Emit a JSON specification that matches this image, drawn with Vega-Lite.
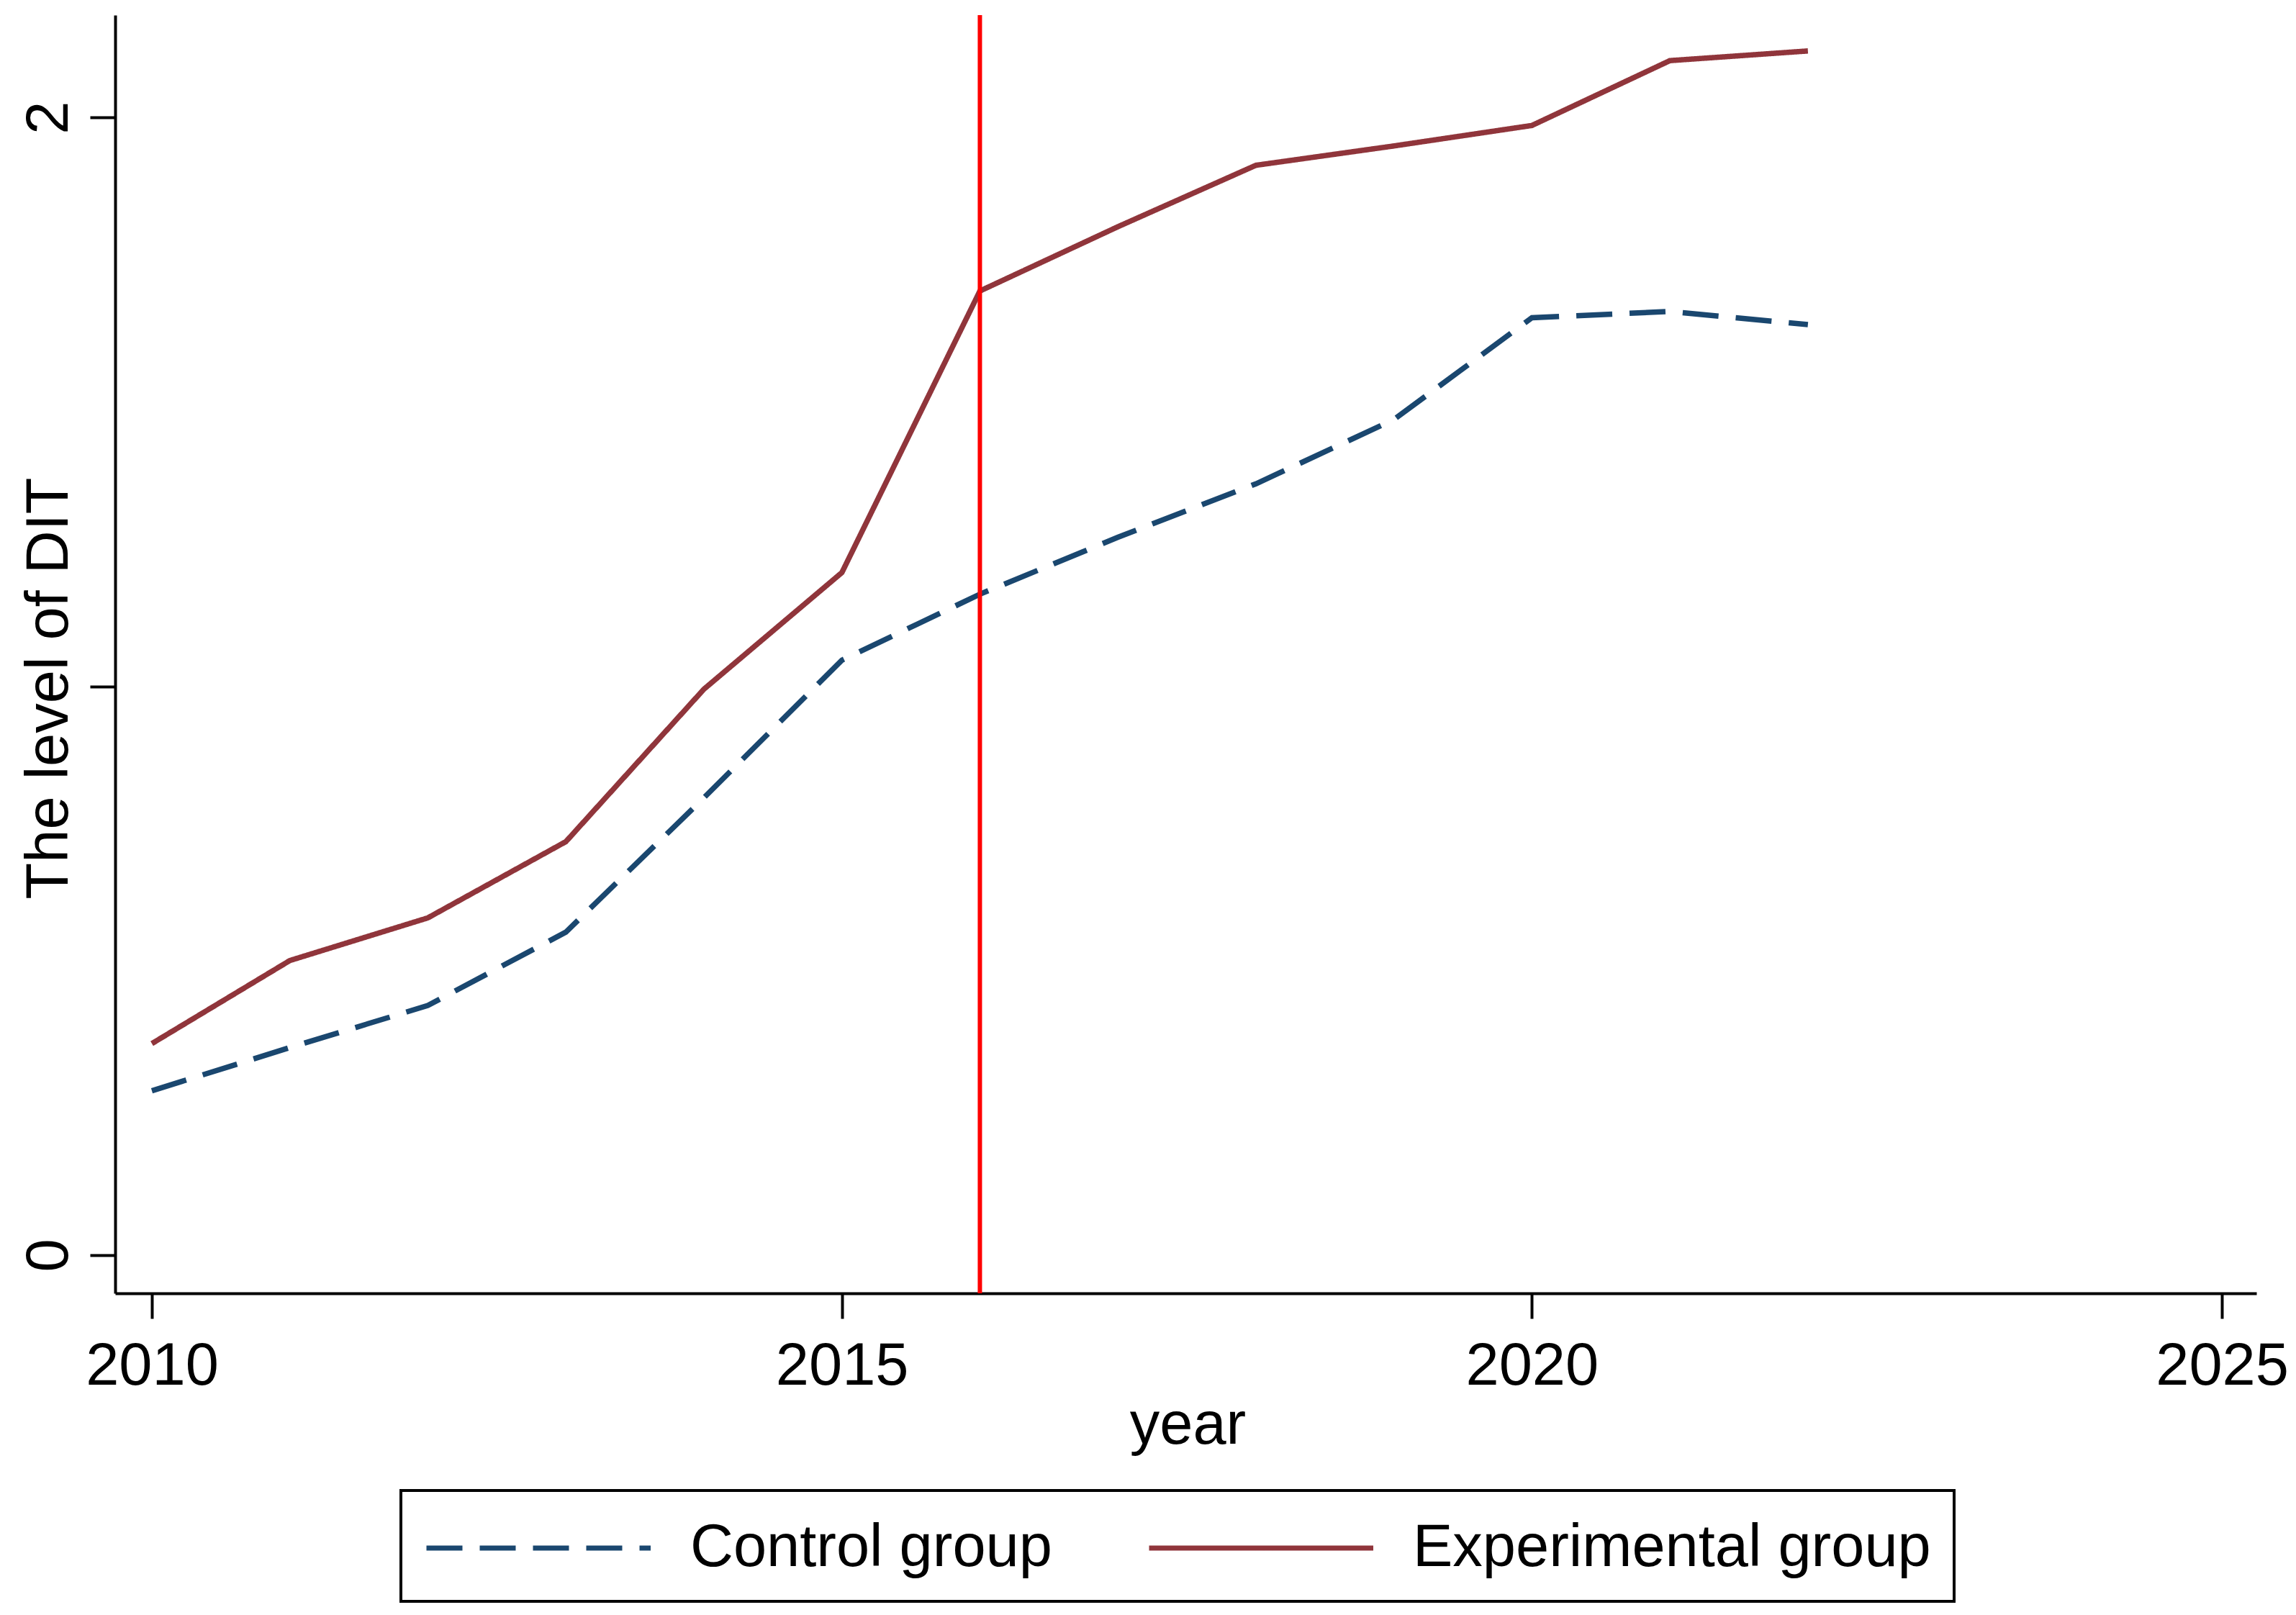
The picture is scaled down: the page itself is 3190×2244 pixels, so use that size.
{
  "$schema": "https://vega.github.io/schema/vega-lite/v6.json",
  "width": 2975,
  "height": 1776,
  "autosize": {"type": "none"},
  "padding": {"left": 160, "top": 21, "right": 55, "bottom": 447},
  "background": "white",
  "datasets": {
    "dit": [
      {"year": 2010, "group": "Control group", "value": 0.289},
      {"year": 2011, "group": "Control group", "value": 0.365},
      {"year": 2012, "group": "Control group", "value": 0.439},
      {"year": 2013, "group": "Control group", "value": 0.568},
      {"year": 2014, "group": "Control group", "value": 0.804},
      {"year": 2015, "group": "Control group", "value": 1.046},
      {"year": 2016, "group": "Control group", "value": 1.162},
      {"year": 2017, "group": "Control group", "value": 1.262},
      {"year": 2018, "group": "Control group", "value": 1.356},
      {"year": 2019, "group": "Control group", "value": 1.469},
      {"year": 2020, "group": "Control group", "value": 1.648},
      {"year": 2021, "group": "Control group", "value": 1.659},
      {"year": 2022, "group": "Control group", "value": 1.636},
      {"year": 2010, "group": "Experimental group", "value": 0.372},
      {"year": 2011, "group": "Experimental group", "value": 0.518},
      {"year": 2012, "group": "Experimental group", "value": 0.593},
      {"year": 2013, "group": "Experimental group", "value": 0.727},
      {"year": 2014, "group": "Experimental group", "value": 0.995},
      {"year": 2015, "group": "Experimental group", "value": 1.200},
      {"year": 2016, "group": "Experimental group", "value": 1.695},
      {"year": 2017, "group": "Experimental group", "value": 1.808},
      {"year": 2018, "group": "Experimental group", "value": 1.916},
      {"year": 2019, "group": "Experimental group", "value": 1.950},
      {"year": 2020, "group": "Experimental group", "value": 1.986},
      {"year": 2021, "group": "Experimental group", "value": 2.100},
      {"year": 2022, "group": "Experimental group", "value": 2.117}
    ],
    "policy": [{"year": 2016}]
  },
  "layer": [
    {
      "data": {"name": "dit"},
      "mark": {"type": "line", "strokeWidth": 7.5},
      "encoding": {
        "x": {
          "field": "year",
          "type": "quantitative",
          "scale": {"domain": [2009.734, 2025.25], "nice": false, "zero": false},
          "axis": {
            "values": [2010, 2015, 2020, 2025],
            "format": "d",
            "title": "year",
            "labelBaseline": "alphabetic",
            "labelPadding": 91,
            "titleBaseline": "alphabetic",
            "titleY": 208,
            "titleX": 1490
          }
        },
        "y": {
          "field": "value",
          "type": "quantitative",
          "scale": {"domain": [-0.067, 2.18], "nice": false, "zero": false},
          "axis": {
            "values": [0, 1, 2],
            "format": "d",
            "labelExpr": "datum.value == 1 ? '' : datum.label",
            "labelAngle": 270,
            "labelAlign": "center",
            "labelBaseline": "alphabetic",
            "labelPadding": 32,
            "title": "The level of DIT",
            "titleAngle": 270,
            "titleAlign": "center",
            "titleBaseline": "alphabetic",
            "titleX": -67,
            "titleY": 935
          }
        },
        "color": {
          "field": "group",
          "type": "nominal",
          "scale": {"domain": ["Control group", "Experimental group"], "range": ["#1a476f", "#90353b"]},
          "legend": {
            "orient": "none",
            "direction": "horizontal",
            "legendX": 397,
            "legendY": 2050,
            "title": null
          }
        },
        "strokeDash": {
          "field": "group",
          "type": "nominal",
          "scale": {"domain": ["Control group", "Experimental group"], "range": [[50, 24], [1, 0]]},
          "legend": {
            "orient": "none",
            "direction": "horizontal",
            "legendX": 397,
            "legendY": 2050,
            "title": null
          }
        }
      }
    },
    {
      "data": {"name": "policy"},
      "mark": {"type": "rule", "color": "#ff0000", "strokeWidth": 6},
      "encoding": {
        "x": {"field": "year", "type": "quantitative"}
      }
    }
  ],
  "config": {
    "view": {"stroke": null},
    "font": "Liberation Sans",
    "axis": {
      "grid": false,
      "domainColor": "black",
      "domainWidth": 4,
      "tickColor": "black",
      "tickWidth": 4,
      "tickSize": 35,
      "labelFont": "Liberation Sans",
      "labelFontSize": 83,
      "labelColor": "black",
      "labelLimit": 2000,
      "titleFont": "Liberation Sans",
      "titleFontSize": 83,
      "titleFontWeight": "normal",
      "titleColor": "black",
      "titleLimit": 3000,
      "labelOverlap": false,
      "labelFlush": false
    },
    "legend": {
      "symbolType": "M-1,0H6",
      "symbolSize": 7921,
      "symbolStrokeWidth": 7,
      "labelFont": "Liberation Sans",
      "labelFontSize": 83,
      "labelColor": "black",
      "labelLimit": 2000,
      "labelOffset": 274,
      "columnPadding": 120,
      "padding": 32,
      "strokeColor": "black",
      "strokeWidth": 4
    }
  }
}
